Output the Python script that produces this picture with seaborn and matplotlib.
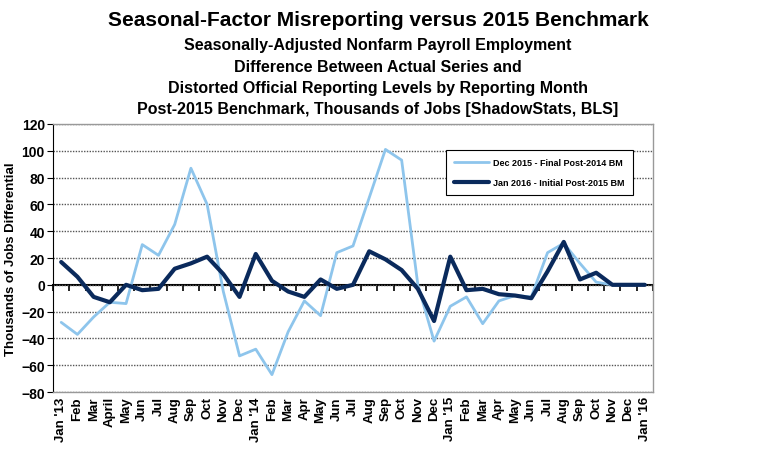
import numpy as np
import pandas as pd
import seaborn as sns
import matplotlib.pyplot as plt

# 월별 라벨 (Jan '13 ~ Jan '16)
months = ["Jan '13", "Feb", "Mar", "April", "May", "Jun", "Jul", "Aug", "Sep", "Oct", "Nov", "Dec",
          "Jan '14", "Feb", "Mar", "Apr", "May", "Jun", "Jul", "Aug", "Sep", "Oct", "Nov", "Dec",
          "Jan '15", "Feb", "Mar", "Apr", "May", "Jun", "Jul", "Aug", "Sep", "Oct", "Nov", "Dec",
          "Jan '16"]

dec2015 = [-28, -37, -24, -13, -14, 30, 22, 45, 87, 60, -5, -53,
           -48, -67, -35, -12, -23, 24, 29, 65, 101, 93, 0, -42,
           -16, -9, -29, -12, -8, -9, 24, 31, 16, 2, 0, 0]
jan2016 = [17, 6, -9, -13, 0, -4, -3, 12, 16, 21, 8, -9,
           23, 3, -5, -9, 4, -3, 0, 25, 19, 11, -3, -27,
           21, -4, -3, -7, -8, -10, 10, 32, 4, 9, 0, 0, 0]

label_dec = "Dec 2015 - Final Post-2014 BM"
label_jan = "Jan 2016 - Initial Post-2015 BM"

df = pd.concat([
    pd.DataFrame({"idx": range(len(dec2015)), "val": dec2015, "series": label_dec}),
    pd.DataFrame({"idx": range(len(jan2016)), "val": jan2016, "series": label_jan}),
])

sns.set_style("white")
plt.rcParams['font.family'] = ['Liberation Sans', 'DejaVu Sans']
plt.rcParams['text.color'] = 'black'
plt.rcParams['xtick.color'] = 'black'
plt.rcParams['ytick.color'] = 'black'
plt.rcParams['axes.labelcolor'] = 'black'

fig = plt.figure(figsize=(7.81, 4.56), dpi=100)
ax = fig.add_axes([0.068, 0.138, 0.768, 0.588])

sns.lineplot(data=df, x="idx", y="val", hue="series", size="series",
             palette={label_dec: "#8EC5EC", label_jan: "#0A2A5C"},
             sizes={label_dec: 2.0, label_jan: 3.0}, ax=ax)

n = len(months)
ax.set_xlim(-0.5, n - 0.5)
ax.set_ylim(-80, 120)
ax.set_yticks(range(-80, 121, 20))
ax.yaxis.grid(True, color="#555555", linestyle=(0, (1, 1)), linewidth=1)
ax.set_axisbelow(True)

ax.set_xticks(range(n))
ax.set_xticklabels(months, rotation=90, fontweight="bold", fontsize=9.5)
ax.tick_params(axis="x", length=0, pad=3)
ax.tick_params(axis="y", direction="out", length=4, left=True, labelsize=10, pad=2)
for t in ax.get_yticklabels():
    t.set_fontweight("bold")

for s in ["top", "right", "bottom"]:
    ax.spines[s].set_color("#999999")
    ax.spines[s].set_linewidth(1)
ax.spines["left"].set_color("black")

# 0 기준선 + 경계 눈금
zero = ax.secondary_xaxis(0.4)
zero.set_xticks(np.arange(-0.5, n, 1.0))
zero.set_xticklabels([])
zero.tick_params(length=4, direction="out", width=1.2)
zero.spines["bottom"].set_color("black")
zero.spines["bottom"].set_linewidth(1.5)

ax.set_xlabel("")
ax.set_ylabel("Thousands of Jobs Differential", fontsize=9.5, fontweight="bold", labelpad=3)

leg = ax.legend(loc="upper left", bbox_to_anchor=(0.648, 0.92), title=None,
                prop={"size": 6.5, "weight": "bold"}, fancybox=False, framealpha=1,
                edgecolor="black", borderpad=0.9, labelspacing=1.2, handlelength=3.8,
                handletextpad=0.5)
leg.get_frame().set_linewidth(0.8)

fig.text(0.484, 0.955, "Seasonal-Factor Misreporting versus 2015 Benchmark",
         ha="center", va="center", fontsize=15, fontweight="bold")
subs = ["Seasonally-Adjusted Nonfarm Payroll Employment",
        "Difference Between Actual Series and",
        "Distorted Official Reporting Levels by Reporting Month",
        "Post-2015 Benchmark, Thousands of Jobs [ShadowStats, BLS]"]
for i, s in enumerate(subs):
    fig.text(0.484, 0.90 - i * 0.047, s, ha="center", va="center",
             fontsize=11.5, fontweight="bold")

plt.savefig("out.png", dpi=100)
